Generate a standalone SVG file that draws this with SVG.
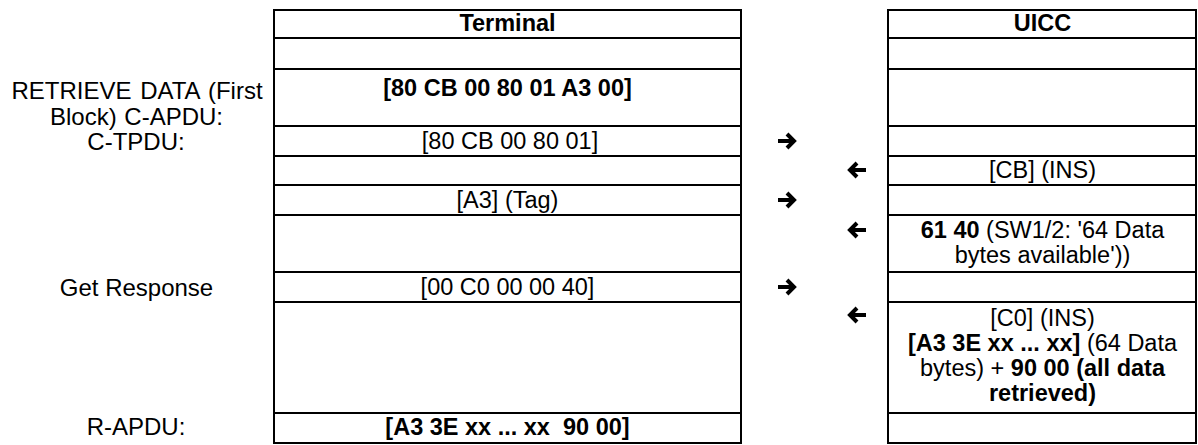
<svg xmlns="http://www.w3.org/2000/svg" width="1198" height="445" viewBox="0 0 1198 445">
<style>
text{font-family:"Liberation Sans",Arial,sans-serif;font-size:23.5px;fill:#000;text-anchor:middle}
.b{font-weight:bold}
.lbl{font-size:24px}
.cell{fill:#fff;stroke:#000;stroke-width:2}
.arr{fill:none;stroke:#000;stroke-width:4;stroke-linejoin:miter}
</style>
<rect width="1198" height="445" fill="#fff"/>
<g id="labels">
<g id="label-retrieve"><text class="lbl" x="137" y="99" word-spacing="2">RETRIEVE DATA (First</text><text class="lbl" x="136.5" y="124.5" word-spacing="1">Block) C-APDU:</text></g>
<g id="label-ctpdu"><text class="lbl" x="136" y="149.5">C-TPDU:</text></g>
<g id="label-getresponse"><text class="lbl" x="136.5" y="295.5">Get Response</text></g>
<g id="label-rapdu"><text class="lbl" x="136" y="435">R-APDU:</text></g>
</g>
<g id="terminal">
<g id="t-r1"><rect class="cell" x="274" y="10" width="467" height="28"/><text class="b" x="507.5" y="30.5">Terminal</text></g>
<g id="t-r2"><rect class="cell" x="274" y="38" width="467" height="31"/></g>
<g id="t-r3"><rect class="cell" x="274" y="69" width="467" height="57"/><text class="b" x="507.5" y="96">[80 CB 00 80 01 A3 00]</text></g>
<g id="t-r4"><rect class="cell" x="274" y="126" width="467" height="30"/><text x="510" y="148.5">[80 CB 00 80 01]</text></g>
<g id="t-r5"><rect class="cell" x="274" y="156" width="467" height="29"/></g>
<g id="t-r6"><rect class="cell" x="274" y="185" width="467" height="30"/><text x="507.5" y="207.5">[A3] (Tag)</text></g>
<g id="t-r7"><rect class="cell" x="274" y="215" width="467" height="57"/></g>
<g id="t-r8"><rect class="cell" x="274" y="272" width="467" height="30"/><text x="507.5" y="294.5">[00 C0 00 00 40]</text></g>
<g id="t-r9"><rect class="cell" x="274" y="302" width="467" height="111"/></g>
<g id="t-r10"><rect class="cell" x="274" y="413" width="467" height="30"/><text class="b" x="507.5" y="435" xml:space="preserve">[A3 3E xx ... xx  90 00]</text></g>
</g>
<g id="uicc">
<g id="u-r1"><rect class="cell" x="888" y="10" width="308" height="28"/><text class="b" x="1042.5" y="30.5">UICC</text></g>
<g id="u-r2"><rect class="cell" x="888" y="38" width="308" height="31"/></g>
<g id="u-r3"><rect class="cell" x="888" y="69" width="308" height="57"/></g>
<g id="u-r4"><rect class="cell" x="888" y="126" width="308" height="30"/></g>
<g id="u-r5"><rect class="cell" x="888" y="156" width="308" height="29"/><text x="1042.5" y="177.5">[CB] (INS)</text></g>
<g id="u-r6"><rect class="cell" x="888" y="185" width="308" height="30"/></g>
<g id="u-r7"><rect class="cell" x="888" y="215" width="308" height="57"/><text x="1042.5" y="238"><tspan class="b">61 40</tspan> (SW1/2: '64 Data</text><text x="1042.5" y="263">bytes available'))</text></g>
<g id="u-r8"><rect class="cell" x="888" y="272" width="308" height="30"/></g>
<g id="u-r9"><rect class="cell" x="888" y="302" width="308" height="111"/><text x="1042.5" y="326">[C0] (INS)</text><text x="1042.5" y="351"><tspan class="b">[A3 3E xx ... xx]</tspan> (64 Data</text><text x="1042.5" y="376">bytes) + <tspan class="b">90 00 (all data</tspan></text><text class="b" x="1042.5" y="401">retrieved)</text></g>
<g id="u-r10"><rect class="cell" x="888" y="413" width="308" height="30"/></g>
</g>
<g id="connectors">
<path class="arr" d="M778 141H794M787 134L794 141L787 148"/>
<path class="arr" d="M866 170H850M857 163L850 170L857 177"/>
<path class="arr" d="M778 200H794M787 193L794 200L787 207"/>
<path class="arr" d="M866 230H850M857 223L850 230L857 237"/>
<path class="arr" d="M778 287H794M787 280L794 287L787 294"/>
<path class="arr" d="M866 315H850M857 308L850 315L857 322"/>
</g>
</svg>
